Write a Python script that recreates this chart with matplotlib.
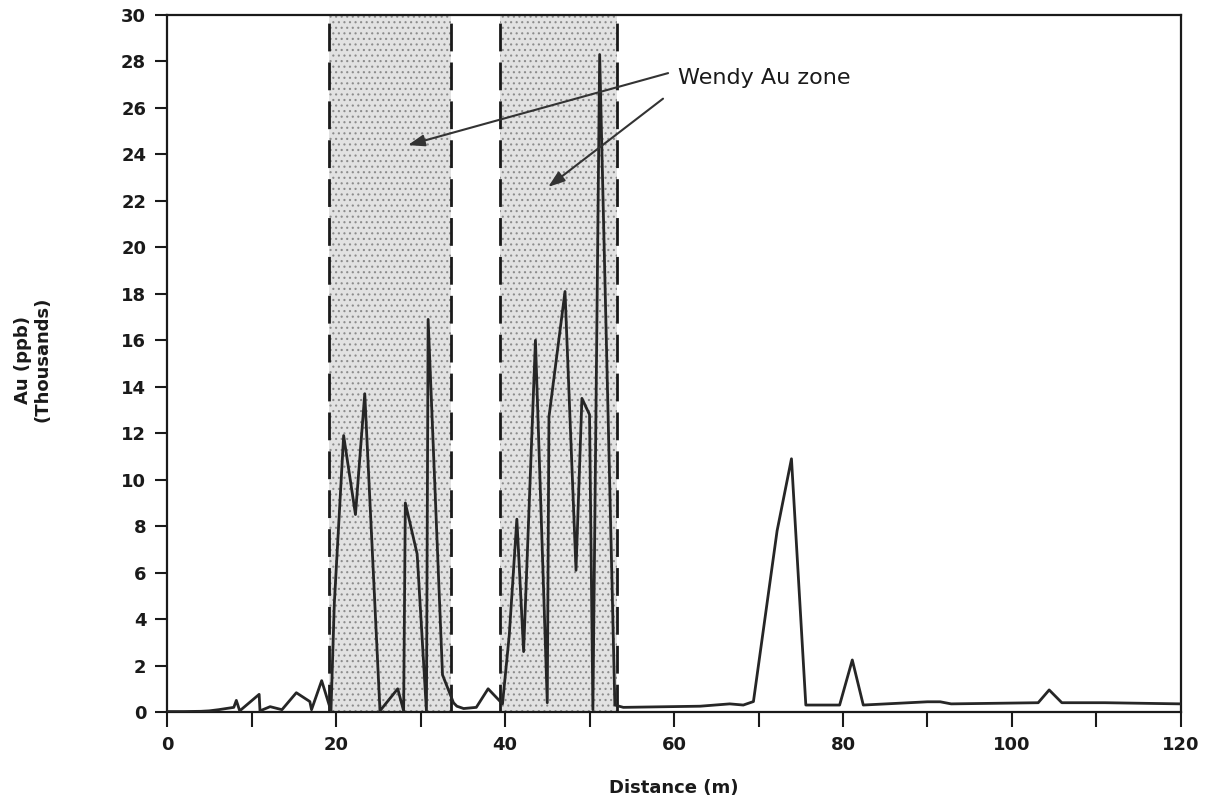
import matplotlib
matplotlib.use("Agg")
import matplotlib.pyplot as plt

# Data (distance in m, Au in thousands of ppb)
distance = [0, 2, 4, 5, 6.1, 7.9, 8.2, 8.6, 10.9, 11.0, 12.2, 13.6, 15.3, 16.9, 17.1,
            18.3, 19.4, 19.8, 20.9, 22.3, 23.4, 25.2, 27.3, 28.0, 28.2, 29.6, 30.7,
            30.9, 32.6, 33.9, 34.3, 35.1, 36.6, 38.0, 39.7, 40.5, 41.4, 42.2, 43.6,
            45.0, 45.2, 47.1, 48.4, 49.1, 50.0, 50.4, 51.2, 53.0, 54.0, 63.1, 66.6,
            68.2, 69.4, 72.2, 73.9, 75.6, 79.6, 81.1, 82.4, 90.0, 91.5, 92.8, 103.1,
            104.4, 105.9, 111.0, 120.0]
au = [0.02, 0.02, 0.03, 0.05, 0.1, 0.2, 0.5, 0.05, 0.76, 0.05, 0.23, 0.1, 0.83, 0.45, 0.1,
      1.35, 0.05, 4.7, 11.9, 8.5, 13.7, 0.05, 1.0, 0.05, 9.0, 6.8, 0.05,
      16.9, 1.6, 0.4, 0.25, 0.15, 0.2, 1.0, 0.35, 3.3, 8.3, 2.6, 16.0,
      0.4, 12.7, 18.1, 6.1, 13.5, 12.8, 0.1, 28.3, 0.3, 0.2, 0.25, 0.35,
      0.3, 0.45, 7.8, 10.9, 0.3, 0.3, 2.24, 0.3, 0.44, 0.44, 0.35, 0.4,
      0.95, 0.4, 0.4, 0.35]

zones = [(19.2, 33.6), (39.4, 53.2)]
xticks_major = [0, 20, 40, 60, 80, 100, 120]
xticks_minor = [10, 30, 50, 70, 90, 110]
yticks = list(range(0, 31, 2))

plt.rcParams['hatch.color'] = '#7a7a7a'
plt.rcParams['hatch.linewidth'] = 0.8

fig = plt.figure(figsize=(12.14, 8.08), dpi=100)
ax = fig.add_axes([0.1376, 0.1188, 0.9728 - 0.1376, 0.9814 - 0.1188])

for (a, b) in zones:
    ax.axvspan(a, b, facecolor='#e2e2e2', edgecolor='none', zorder=0)
    ax.axvspan(a, b, facecolor='none', edgecolor='#8c8c8c', lw=0, hatch='...', zorder=0)
    for xv in (a, b):
        ax.axvline(xv, color='#1a1a1a', lw=2.0, ls=(0, (10, 4)), zorder=1)

ax.plot(distance, au, color='#262626', lw=2.0, zorder=3)

ax.set_xlim(0, 120)
ax.set_ylim(0, 30)
ax.set_xticks(xticks_major)
ax.set_xticks(xticks_minor, minor=True)
ax.set_yticks(yticks)
ax.tick_params(axis='both', which='both', direction='out', width=1.5, color='#1a1a1a')
ax.tick_params(axis='x', which='both', length=11, pad=6, labelsize=13)
ax.tick_params(axis='y', which='both', length=9, pad=6, labelsize=13)
for lab in ax.get_xticklabels() + ax.get_yticklabels():
    lab.set_fontweight('bold')
    lab.set_color('#1a1a1a')
for s in ax.spines.values():
    s.set_linewidth(1.6)
    s.set_color('#1a1a1a')

ax.set_xlabel('Distance (m)', fontsize=13, fontweight='bold', labelpad=18, color='#1a1a1a')
fig.text(0.027, 0.555, 'Au (ppb)\n(Thousands)', rotation=90, ha='center', va='center',
         fontsize=13, fontweight='bold', color='#1a1a1a', linespacing=1.1)

ax.text(60.5, 27.3, 'Wendy Au zone', fontsize=16, va='center', ha='left', color='#1a1a1a')
arrowprops = dict(arrowstyle='-|>,head_length=1.0,head_width=0.35', color='#333333', lw=1.5,
                  shrinkA=0, shrinkB=0)
ax.annotate('', xy=(28.5, 24.4), xytext=(59.3, 27.5), arrowprops=arrowprops)
ax.annotate('', xy=(45.1, 22.6), xytext=(58.7, 26.4), arrowprops=arrowprops)

fig.savefig('out.png', dpi=100)
